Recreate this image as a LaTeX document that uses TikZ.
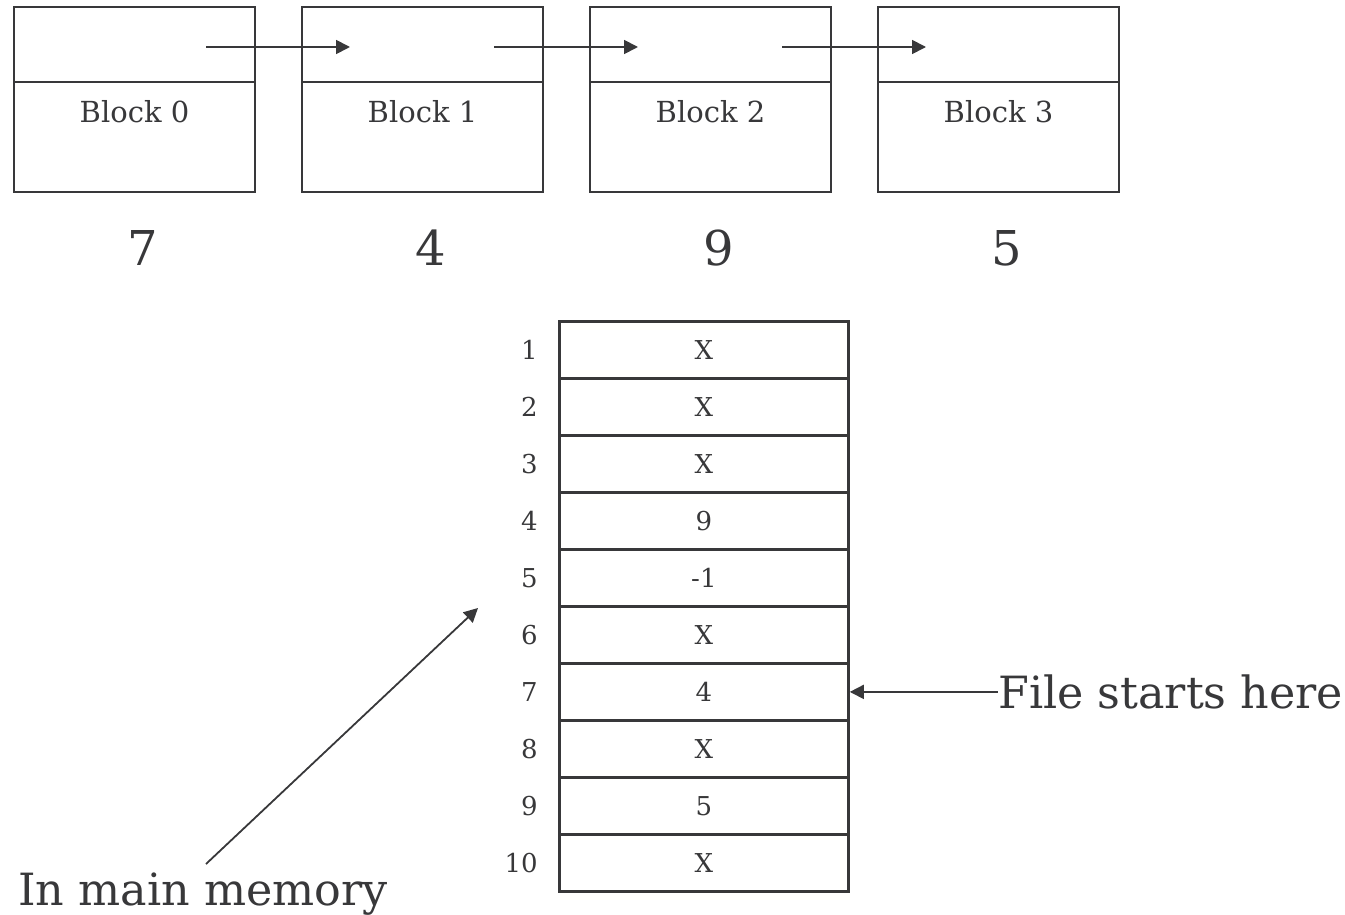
\documentclass[tikz,border=0pt]{standalone}
\usepackage{fontspec}
\setmainfont{DejaVu Serif}
\usepackage{tikz}
\usetikzlibrary{arrows.meta,positioning}
\definecolor{ink}{HTML}{38383A}
\tikzset{
  ar/.style={-{Triangle[length=7pt,width=7pt]},line width=0.9pt,ink},
  blk/.style={draw=ink,line width=1.4pt,minimum width=120.5pt,inner sep=0pt,outer sep=0pt},
  cell/.style={draw=ink,line width=1.4pt,minimum width=144.5pt,minimum height=28.5pt,inner sep=0pt,text=ink,font=\fontsize{13}{16}\selectfont},
  idx/.style={anchor=east,inner sep=0pt,text=ink,font=\fontsize{13}{16}\selectfont},
  big/.style={text=ink,inner sep=0pt,font=\fontsize{24}{30}\selectfont},
  lbl/.style={text=ink,inner sep=0pt,font=\fontsize{22.2}{27}\selectfont}
}

\begin{document}
\begin{tikzpicture}[x=0.5pt,y=-0.5pt]
\useasboundingbox (0,0) rectangle (1345,915);
% linked blocks
\foreach \i/\n in {0/7,1/4,2/9,3/5}{
  \node[blk,minimum height=37.5pt,anchor=north west] (t\i) at (14+288*\i,7) {};
  \node[blk,minimum height=55pt,below=0pt of t\i] (b\i) {};
  \node[text=ink,inner sep=0pt,font=\fontsize{14.5}{18}\selectfont] (l\i) at ([yshift=-15pt]b\i.north) {Block \i};
  \node[big] (k\i) at (143+288*\i,248) {\n};
}
\foreach \i in {0,1,2}{
  \coordinate (s\i) at (206+288*\i,47);
  \coordinate (e\i) at (350+288*\i,47);
  \draw[ar] (s\i) -- (e\i);
}
% table in memory
\foreach \i/\v in {1/X,2/X,3/X,4/9,5/-1,6/X,7/4,8/X,9/5,10/X}{
  \node[cell,anchor=north west] (m\i) at (558,320+57*\i-57) {\v};
  \node[idx] (n\i) at ([xshift=-10pt]m\i.west) {\i};
}
\node[lbl,anchor=west] (fs) at ([xshift=74pt]m7.east) {File starts here};
\draw[ar] (fs.west) -- (m7.east);
\node[lbl,anchor=base west] (im) at (18,905) {In main memory};
\coordinate (p0) at (206,864);
\coordinate (p1) at (478,608);
\draw[ar] (p0) -- (p1);
\end{tikzpicture}
\end{document}
